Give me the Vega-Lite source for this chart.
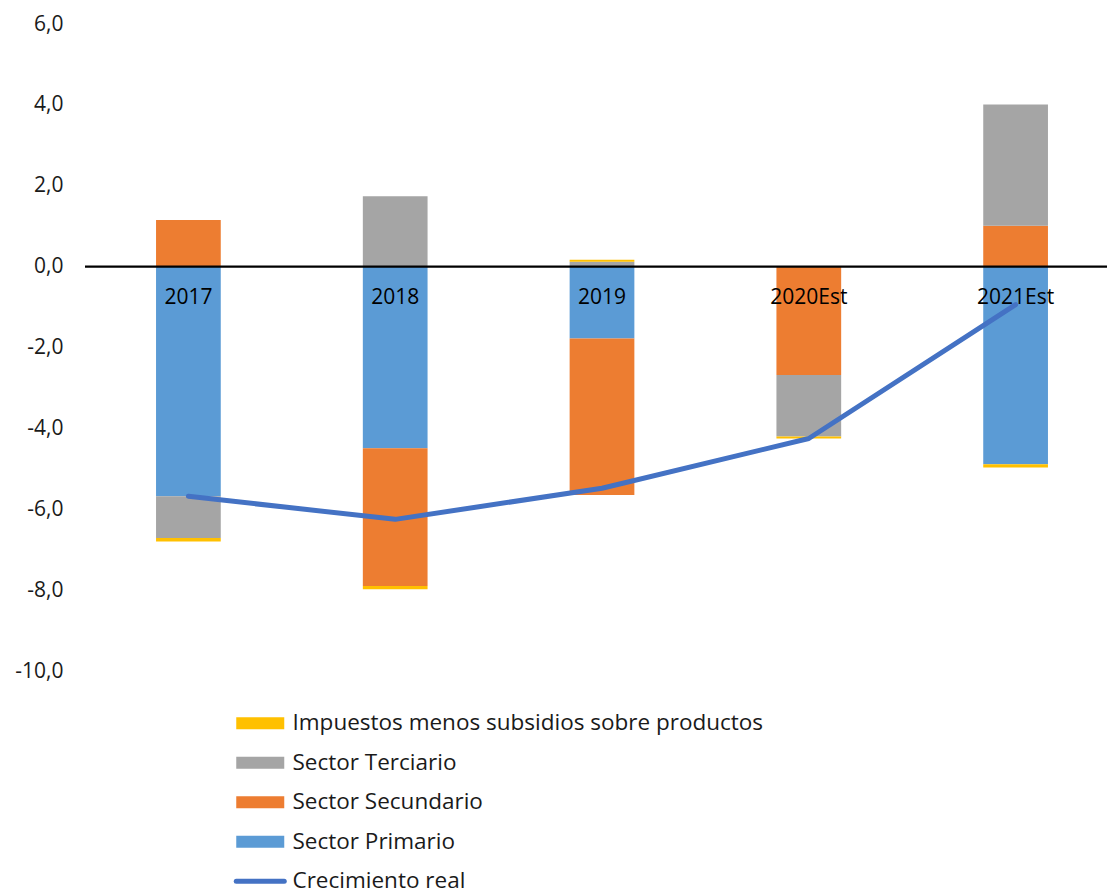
{
  "$schema": "https://vega.github.io/schema/vega-lite/v6.json",
  "autosize": "none",
  "width": 1022,
  "height": 647,
  "padding": {"left": 85, "top": 24, "right": 0, "bottom": 222},
  "background": "white",
  "config": {
    "view": {"stroke": null},
    "font": "Open Sans"
  },
  "datasets": {
    "sectores": [
      {"anio": "2017", "serie": "Sector Primario", "valor": -5.68, "orden": 1},
      {"anio": "2017", "serie": "Sector Secundario", "valor": 1.15, "orden": 2},
      {"anio": "2017", "serie": "Sector Terciario", "valor": -1.03, "orden": 3},
      {"anio": "2017", "serie": "Impuestos menos subsidios sobre productos", "valor": -0.09, "orden": 4},
      {"anio": "2018", "serie": "Sector Primario", "valor": -4.49, "orden": 1},
      {"anio": "2018", "serie": "Sector Secundario", "valor": -3.41, "orden": 2},
      {"anio": "2018", "serie": "Sector Terciario", "valor": 1.74, "orden": 3},
      {"anio": "2018", "serie": "Impuestos menos subsidios sobre productos", "valor": -0.08, "orden": 4},
      {"anio": "2019", "serie": "Sector Primario", "valor": -1.78, "orden": 1},
      {"anio": "2019", "serie": "Sector Secundario", "valor": -3.87, "orden": 2},
      {"anio": "2019", "serie": "Sector Terciario", "valor": 0.12, "orden": 3},
      {"anio": "2019", "serie": "Impuestos menos subsidios sobre productos", "valor": 0.05, "orden": 4},
      {"anio": "2020Est", "serie": "Sector Primario", "valor": 0.0, "orden": 1},
      {"anio": "2020Est", "serie": "Sector Secundario", "valor": -2.68, "orden": 2},
      {"anio": "2020Est", "serie": "Sector Terciario", "valor": -1.52, "orden": 3},
      {"anio": "2020Est", "serie": "Impuestos menos subsidios sobre productos", "valor": -0.05, "orden": 4},
      {"anio": "2021Est", "serie": "Sector Primario", "valor": -4.89, "orden": 1},
      {"anio": "2021Est", "serie": "Sector Secundario", "valor": 1.01, "orden": 2},
      {"anio": "2021Est", "serie": "Sector Terciario", "valor": 3.0, "orden": 3},
      {"anio": "2021Est", "serie": "Impuestos menos subsidios sobre productos", "valor": -0.08, "orden": 4}
    ],
    "crecimiento": [
      {"anio": "2017", "valor": -5.68},
      {"anio": "2018", "valor": -6.25},
      {"anio": "2019", "valor": -5.48},
      {"anio": "2020Est", "valor": -4.25},
      {"anio": "2021Est", "valor": -0.94}
    ],
    "cero": [{"valor": 0}]
  },
  "layer": [
    {
      "data": {"name": "sectores"},
      "mark": {"type": "bar", "width": {"band": 0.313}},
      "encoding": {
        "x": {
          "field": "anio",
          "type": "nominal",
          "sort": ["2017", "2018", "2019", "2020Est", "2021Est"],
          "scale": {"range": [0, 1034], "paddingInner": 0, "paddingOuter": 0},
          "axis": null
        },
        "y": {
          "field": "valor",
          "type": "quantitative",
          "stack": "zero",
          "scale": {"domain": [-10, 6], "nice": false, "zero": false},
          "axis": {
            "values": [-10, -8, -6, -4, -2, 0, 2, 4, 6],
            "grid": false,
            "domain": false,
            "ticks": false,
            "labelPadding": 22,
            "labelFontSize": 21,
            "labelColor": "#1a1a1a",
            "labelFont": "Open Sans",
            "labelExpr": "(datum.value < 0 ? '-' : '') + replace(format(abs(datum.value), '.1f'), '.', ',')",
            "title": null
          }
        },
        "order": {"field": "orden", "type": "quantitative"},
        "color": {
          "field": "serie",
          "type": "nominal",
          "scale": {
            "domain": ["Impuestos menos subsidios sobre productos", "Sector Terciario", "Sector Secundario", "Sector Primario", "Crecimiento real"],
            "range": ["#FFC000", "#A5A5A5", "#ED7D31", "#5B9BD5", "#4472C4"]
          },
          "legend": {
            "orient": "none",
            "legendX": 164,
            "legendY": 688,
            "direction": "vertical",
            "title": null,
            "padding": 0,
            "symbolSize": 576,
            "symbolType": "M-2,-0.5L2,-0.5L2,0.5L-2,0.5Z",
            "symbolStrokeWidth": 0,
            "labelOffset": 21,
            "labelFontSize": 22.5,
            "labelFont": "Open Sans",
            "labelColor": "#1a1a1a",
            "labelLimit": 800,
            "rowPadding": 16.5,
            "encode": {
              "symbols": {
                "update": {
                  "shape": {"signal": "datum.value === 'Crecimiento real' ? 'M-2,0L2,0' : 'M-2,-0.5L2,-0.5L2,0.5L-2,0.5Z'"},
                  "fill": {"signal": "datum.value === 'Crecimiento real' ? 'transparent' : scale('color', datum.value)"},
                  "stroke": {"signal": "scale('color', datum.value)"},
                  "strokeWidth": {"signal": "datum.value === 'Crecimiento real' ? 5 : 0"},
                  "strokeCap": {"value": "round"},
                  "opacity": {"value": 1}
                }
              }
            }
          }
        }
      }
    },
    {
      "data": {"name": "cero"},
      "mark": {"type": "rule", "color": "#000000", "strokeWidth": 2.3},
      "encoding": {"y": {"field": "valor", "type": "quantitative"}}
    },
    {
      "data": {"name": "crecimiento"},
      "mark": {"type": "text", "fontSize": 21, "font": "Open Sans", "color": "#000000", "baseline": "middle", "dy": 31},
      "encoding": {
        "x": {"field": "anio", "type": "nominal", "sort": ["2017", "2018", "2019", "2020Est", "2021Est"]},
        "y": {"datum": 0, "type": "quantitative"},
        "text": {"field": "anio"}
      }
    },
    {
      "data": {"name": "crecimiento"},
      "mark": {"type": "line", "strokeWidth": 5, "strokeCap": "round", "strokeJoin": "round"},
      "encoding": {
        "x": {"field": "anio", "type": "nominal", "sort": ["2017", "2018", "2019", "2020Est", "2021Est"]},
        "y": {"field": "valor", "type": "quantitative"},
        "color": {"datum": "Crecimiento real"}
      }
    }
  ]
}
